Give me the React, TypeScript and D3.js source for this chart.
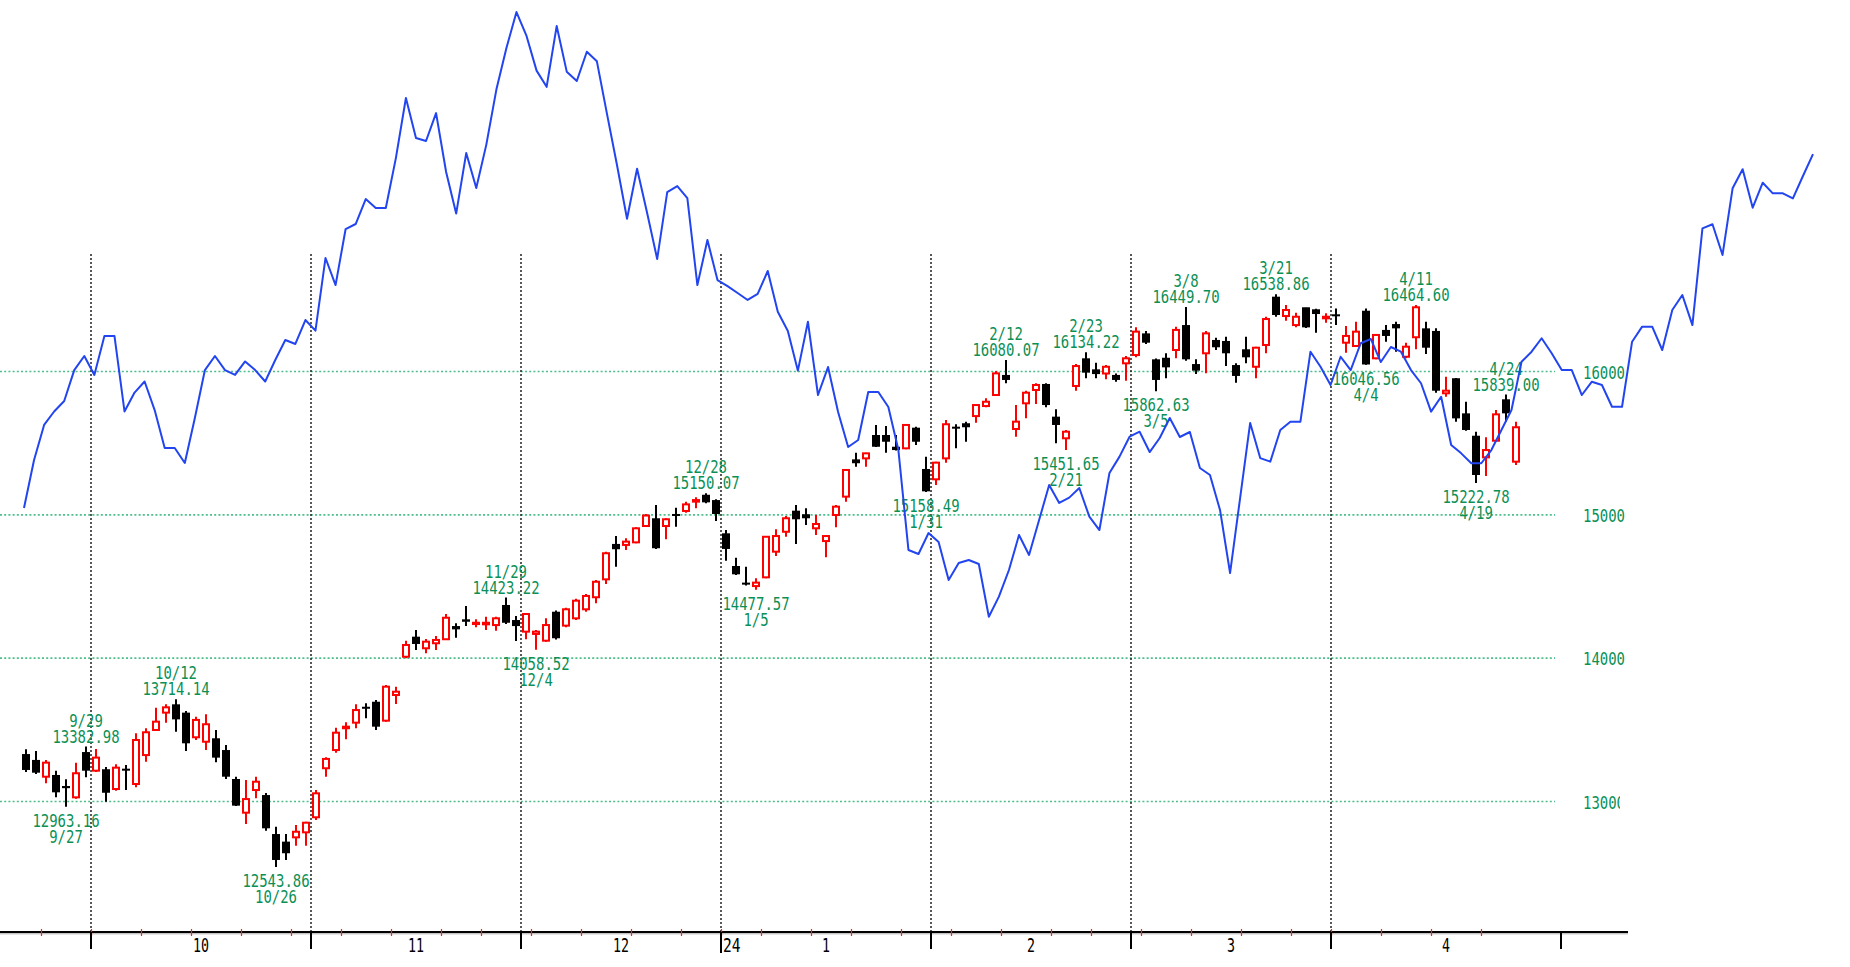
import React from 'react';
import * as d3 from 'd3';

// trading days on the chart: [year, month, days]
const tradingDays: [number, number, number[]][] = [
  [2023, 9, [21, 22, 25, 26, 27, 28, 29]],
  [2023, 10, [2, 3, 4, 5, 6, 9, 10, 11, 12, 13, 16, 17, 18, 19, 20, 23, 24, 25, 26, 27, 30, 31]],
  [2023, 11, [1, 2, 3, 6, 7, 8, 9, 10, 13, 14, 15, 16, 17, 20, 21, 22, 24, 27, 28, 29, 30]],
  [2023, 12, [1, 4, 5, 6, 7, 8, 11, 12, 13, 14, 15, 18, 19, 20, 21, 22, 26, 27, 28, 29]],
  [2024, 1, [2, 3, 4, 5, 8, 9, 10, 11, 12, 16, 17, 18, 19, 22, 23, 24, 25, 26, 29, 30, 31]],
  [2024, 2, [1, 2, 5, 6, 7, 8, 9, 12, 13, 14, 15, 16, 20, 21, 22, 23, 26, 27, 28, 29]],
  [2024, 3, [1, 4, 5, 6, 7, 8, 11, 12, 13, 14, 15, 18, 19, 20, 21, 22, 25, 26, 27, 28]],
  [2024, 4, [1, 2, 3, 4, 5, 8, 9, 10, 11, 12, 15, 16, 17, 18, 19, 22, 23, 24, 25]],
];

const opens = [
  13331, 13290, 13173, 13185, 13108, 13029, 13345, 13215, 13225, 13087,
  13229, 13122, 13324, 13499, 13620, 13678, 13620, 13448, 13417, 13441,
  13359, 13157, 12922, 13080, 13045, 12773, 12720, 12750, 12785, 12890,
  13232, 13359, 13511, 13550, 13661, 13696, 13564, 13743, 14010, 14150,
  14069, 14104, 14132, 14224, 14271, 14238, 14236, 14231, 14371, 14266,
  14185, 14169, 14122, 14324, 14227, 14278, 14341, 14425, 14550, 14797,
  14790, 14808, 14922, 14976, 14922, 15006, 15027, 15092, 15140, 15103,
  14871, 14643, 14527, 14503, 14564, 14743, 14882, 15029, 15004, 14906,
  14817, 14999, 15127, 15387, 15394, 15557, 15557, 15475, 15464, 15608,
  15320, 15248, 15394, 15615, 15639, 15689, 15759, 15836, 15976, 15599,
  15778, 15871, 15913, 15685, 15534, 15899, 16092, 16015, 15986, 15976,
  16057, 16115, 16266, 16085, 16096, 16150, 16324, 16052, 16127, 16220,
  16213, 16045, 16155, 16033, 16185, 16522, 16387, 16324, 16448, 16434,
  16371, 16399, 16201, 16178, 16424, 16092, 16290, 16331, 16103, 16239,
  16301, 16283, 15848, 15953, 15708, 15552, 15401, 15517, 15806, 15371,
];

const highs = [
  13364, 13352, 13290, 13215, 13155, 13271, 13382.98, 13366, 13241, 13260,
  13255, 13476, 13511, 13654, 13678, 13714.14, 13631, 13592, 13608, 13499,
  13394, 13173, 13150, 13173, 13059, 12824, 12773, 12836, 12859, 13080,
  13308, 13515, 13553, 13678, 13685, 13708, 13813, 13801, 14122, 14196,
  14134, 14155, 14308, 14243, 14364, 14271, 14289, 14289, 14423.22, 14294,
  14313, 14196, 14278, 14332, 14352, 14415, 14448, 14545, 14743, 14852,
  14836, 14913, 15006, 15069, 14976, 15050, 15092, 15122, 15150.07, 15108,
  14894, 14701, 14638, 14557, 14852, 14899, 14992, 15069, 15046, 14999,
  14859, 15069, 15318, 15433, 15433, 15627, 15620, 15557, 15634, 15615,
  15406, 15371, 15662, 15632, 15650, 15766, 15813, 16003, 16080.07, 15766,
  15866, 15918, 15918, 15736, 15592, 16052, 16134.22, 16061, 16045, 15986,
  16108, 16308, 16283, 16090, 16127, 16313, 16449.7, 16085, 16283, 16236,
  16243, 16057, 16243, 16173, 16382, 16538.86, 16464, 16410, 16445, 16437,
  16406, 16440, 16317, 16347, 16440, 16255, 16324, 16347, 16201, 16464.6,
  16347, 16301, 15964, 15955, 15789, 15580, 15541, 15731, 15839.0, 15650,
];

const lows = [
  13206, 13192, 13127, 13029, 12963.16, 13020, 13169, 13206, 12999, 13075,
  13080, 13099, 13278, 13499, 13550, 13487, 13352, 13429, 13359, 13273,
  13157, 12969, 12843, 13022, 12796, 12543.86, 12592, 12692, 12692, 12871,
  13173, 13340, 13434, 13511, 13580, 13499, 13557, 13680, 13999, 14057,
  14034, 14057, 14127, 14143, 14224, 14215, 14196, 14192, 14238, 14120,
  14132, 14058.52, 14115, 14130, 14215, 14266, 14324, 14383, 14517, 14638,
  14755, 14801, 14917, 14762, 14829, 14917, 15015, 15046, 15080, 14957,
  14680, 14580, 14507, 14477.57, 14557, 14713, 14847, 14797, 14929, 14859,
  14704, 14913, 15092, 15336, 15336, 15473, 15433, 15448, 15457, 15487,
  15158.49, 15208, 15364, 15464, 15510, 15643, 15750, 15829, 15918, 15545,
  15673, 15773, 15750, 15499, 15451.65, 15866, 15953, 15953, 15946, 15929,
  15936, 16099, 16192, 15862.63, 15953, 16092, 16075, 15983, 15987, 16150,
  16038, 15922, 16057, 15953, 16127, 16382, 16354, 16308, 16303, 16271,
  16340, 16324, 16131, 16173, 16046.56, 16085, 16208, 16138, 16092, 16155,
  16122, 15852, 15824, 15650, 15587, 15222.78, 15271, 15510, 15650, 15348,
];

const closes = [
  13220, 13201, 13271, 13064, 13093, 13197, 13215, 13306, 13061, 13236,
  13220, 13429, 13483, 13557, 13657, 13573, 13406, 13569, 13539, 13306,
  13173, 12971, 13017, 13138, 12813, 12592, 12639, 12789, 12852, 13057,
  13297, 13480, 13522, 13638, 13650, 13522, 13801, 13766, 14092, 14099,
  14115, 14127, 14282, 14201, 14254, 14247, 14247, 14278, 14247, 14224,
  14308, 14185, 14231, 14139, 14341, 14401, 14434, 14533, 14732, 14760,
  14813, 14906, 14995, 14767, 14969, 14992, 15073, 15103, 15087, 15006,
  14762, 14585, 14513, 14527, 14847, 14852, 14976, 14969, 14976, 14936,
  14852, 15057, 15313, 15360, 15429, 15475, 15510, 15452, 15627, 15510,
  15164, 15364, 15632, 15604, 15611, 15766, 15789, 15987, 15941, 15650,
  15852, 15906, 15766, 15627, 15580, 16038, 15992, 15982, 16033, 15941,
  16092, 16278, 16201, 15941, 16029, 16290, 16085, 16006, 16266, 16169,
  16127, 15969, 16099, 16166, 16366, 16394, 16429, 16382, 16308, 16401,
  16382, 16389, 16248, 16278, 16049, 16255, 16248, 16301, 16173, 16448,
  16166, 15866, 15866, 15673, 15592, 15278, 15452, 15701, 15708, 15611,
];

// comparison line (blue), runs past the last candle
const compareLine = [
  15048, 15383, 15627, 15721, 15794, 16010, 16108, 15976, 16248, 16248,
  15721, 15853, 15930, 15731, 15466, 15466, 15362, 15676, 16010, 16108,
  16010, 15976, 16070, 16010, 15930, 16080, 16220, 16192, 16359, 16285,
  16792, 16603, 16994, 17029, 17203, 17141, 17141, 17489, 17908, 17629,
  17608, 17803, 17392, 17102, 17524, 17280, 17583, 17967, 18257, 18508,
  18341, 18099, 17986, 18410, 18092, 18027, 18231, 18164, 17799, 17441,
  17066, 17415, 17106, 16785, 17252, 17294, 17210, 16603, 16917, 16638,
  16596, 16548, 16499, 16541, 16701, 16417, 16283, 16006, 16347, 15836,
  16031, 15717, 15473, 15522, 15857, 15857, 15752, 15452, 14755, 14727,
  14873, 14810, 14545, 14664, 14685, 14657, 14289, 14429, 14615, 14859,
  14720, 14964, 15208, 15083, 15120, 15187, 14987, 14894, 15292, 15406,
  15545, 15580, 15438, 15536, 15676, 15543, 15578, 15327, 15278, 15034,
  14594, 15117, 15641, 15396, 15371, 15592, 15650, 15650, 16138, 16033,
  15906, 16103, 16010, 16197, 16227, 16066, 16171, 16138, 16010, 15918,
  15720, 15824, 15487, 15429, 15360, 15360, 15452, 15592, 15731, 16068,
  16138, 16232, 16127, 16010, 16010, 15836, 15929, 15906, 15754, 15754,
  16208, 16313, 16313, 16150, 16429, 16534, 16324, 16999, 17027, 16813,
  17278, 17411, 17143, 17317, 17243, 17243, 17208, 17364, 17517,
];

const highMarks = ['9/29', '10/12', '11/29', '12/28', '2/12', '2/23', '3/8', '3/21', '4/11', '4/24'];
const lowMarks = ['9/27', '10/26', '12/4', '1/5', '1/31', '2/21', '3/5', '4/4', '4/19'];
const yTicks = [13000, 14000, 15000, 16000];
const axisSlots = 154; // the axis runs on to the start of May

const W = 1850;
const H = 967;
const AXIS_Y = 932;
const GREEN = '#0a8f55';
const MONO = "'DejaVu Sans Mono', monospace";

const dates = tradingDays.flatMap(([yr, mo, ds]) => ds.map(d => new Date(yr, mo - 1, d)));
const fmtMD = d3.timeFormat('%-m/%-d');

const Txt = ({ x, y, text, fill, size = 18, cw = 8.4, anchor = 'middle' }: any) => (
  <text
    x={x}
    y={y}
    fill={fill}
    fontFamily={MONO}
    fontSize={size}
    textAnchor={anchor}
    textLength={text.length * cw}
    lengthAdjust='spacingAndGlyphs'
  >
    {text}
  </text>
);

export default function App() {
  const xSlot = d3.scaleLinear().domain([0, axisSlots]).range([21, 21 + axisSlots * 10]);
  const xc = (i: number) => xSlot(i) + 5;
  const y = d3.scaleLinear().domain([13000, 16000]).range([801.5, 371.5]);
  const xCmp = d3.scaleLinear().domain([0, compareLine.length - 1]).range([24, 1813]);

  const cmpPath = d3.line<number>()
    .x((_, i) => xCmp(i))
    .y(v => y(v))(compareLine) as string;

  // month starts (index of first trading day in each month)
  const monthStarts: number[] = [];
  dates.forEach((d, i) => {
    if (i > 0 && d.getMonth() !== dates[i - 1].getMonth()) monthStarts.push(i);
  });
  const bounds = [...monthStarts, axisSlots];

  // weekly ticks
  const weekStarts: number[] = [];
  dates.forEach((d, i) => {
    if (i > 0 && d3.timeMonday.floor(d).getTime() !== d3.timeMonday.floor(dates[i - 1]).getTime()) weekStarts.push(i);
  });

  const idxOf = (s: string) => dates.findIndex(d => fmtMD(d) === s);

  return (
    <svg
      width={W}
      height={H}
      style={{ position: 'absolute', left: 0, top: 0, background: '#fff' }}
    >
      <defs>
        <clipPath id='lastLabel'>
          <rect x={0} y={0} width={1620} height={H} />
        </clipPath>
      </defs>

      {/* horizontal grid */}
      {yTicks.map(t => (
        <g key={t}>
          <line x1={0} x2={1555} y1={y(t)} y2={y(t)} stroke='#4cbf8c' strokeWidth={1.6} strokeDasharray='2,2.2' />
          <g clipPath={t === yTicks[0] ? 'url(#lastLabel)' : undefined}>
            <Txt x={1583} y={y(t) + 7} text={String(t)} fill={GREEN} anchor='start' />
          </g>
        </g>
      ))}

      {/* month separators */}
      {monthStarts.map(i => (
        <line key={i} x1={xSlot(i)} x2={xSlot(i)} y1={254} y2={AXIS_Y} stroke='#222' strokeWidth={1.5} strokeDasharray='2,2' />
      ))}

      {/* candles */}
      {dates.map((_, i) => {
        const up = closes[i] >= opens[i];
        const col = up ? '#ff0000' : '#000';
        const cx = xc(i);
        const top = y(Math.max(opens[i], closes[i]));
        const bot = y(Math.min(opens[i], closes[i]));
        return (
          <g key={i}>
            <line x1={cx} x2={cx} y1={y(highs[i])} y2={y(lows[i])} stroke={col} strokeWidth={2} />
            {up ? (
              <rect x={cx - 3} y={top} width={6} height={Math.max(bot - top, 1)} fill='#fff' stroke={col} strokeWidth={2} />
            ) : (
              <rect x={cx - 4} y={top} width={8} height={Math.max(bot - top, 2)} fill={col} />
            )}
          </g>
        );
      })}

      {/* high / low marks */}
      {highMarks.map(s => {
        const i = idxOf(s);
        const yy = y(highs[i]);
        return (
          <g key={'h' + s}>
            <Txt x={xc(i)} y={yy - 20} text={s} fill={GREEN} />
            <Txt x={xc(i)} y={yy - 4} text={highs[i].toFixed(2)} fill={GREEN} />
          </g>
        );
      })}
      {lowMarks.map(s => {
        const i = idxOf(s);
        const yy = y(lows[i]);
        return (
          <g key={'l' + s}>
            <Txt x={xc(i)} y={yy + 20} text={lows[i].toFixed(2)} fill={GREEN} />
            <Txt x={xc(i)} y={yy + 36} text={s} fill={GREEN} />
          </g>
        );
      })}

      {/* comparison line */}
      <path d={cmpPath} fill='none' stroke='#2245f0' strokeWidth={2} strokeLinejoin='round' />

      {/* x axis */}
      <line x1={0} x2={1628} y1={AXIS_Y} y2={AXIS_Y} stroke='#000' strokeWidth={2} />
      <line x1={0} x2={1628} y1={AXIS_Y + 1.8} y2={AXIS_Y + 1.8} stroke='#aaa' strokeWidth={1} />
      {weekStarts.map(i => (
        <line key={'w' + i} x1={xSlot(i) + 0.5} x2={xSlot(i) + 0.5} y1={AXIS_Y - 3} y2={AXIS_Y + 4} stroke='#ff2020' strokeWidth={1.2} />
      ))}
      {bounds.map((i, j) => {
        const isYear = i < dates.length && i > 0 && dates[i].getFullYear() !== dates[i - 1].getFullYear();
        return (
          <line key={'m' + j} x1={xSlot(i)} x2={xSlot(i)} y1={AXIS_Y} y2={isYear ? 953 : 949} stroke='#000' strokeWidth={2} />
        );
      })}
      {monthStarts.map((i, j) => {
        const d = dates[i];
        const mid = (xSlot(i) + xSlot(bounds[j + 1])) / 2;
        const isYear = d.getFullYear() !== dates[i - 1].getFullYear();
        return (
          <g key={'ml' + j}>
            <Txt x={mid} y={952} text={String(d.getMonth() + 1)} fill='#000' size={19} cw={8} />
            {isYear && (
              <Txt x={xSlot(i) + 2} y={952} text={String(d.getFullYear()).slice(2)} fill='#000' size={19} cw={8.8} anchor='start' />
            )}
          </g>
        );
      })}
    </svg>
  );
}
